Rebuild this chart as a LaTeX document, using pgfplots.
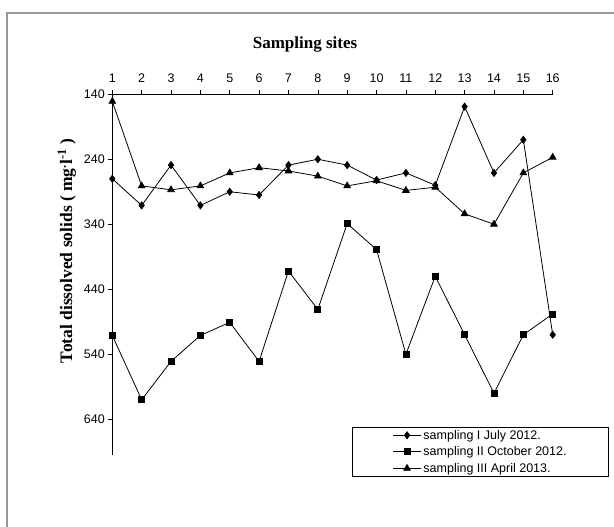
\documentclass[border=0pt]{standalone}
\usepackage{pgfplots}
\pgfplotsset{compat=1.18}
\usepackage{fontspec}
\setmainfont{Liberation Serif}
\newfontfamily\arial{Liberation Sans}
\definecolor{framegray}{RGB}{150,150,150}
\begin{document}
\begin{tikzpicture}[x=1pt,y=1pt]
\useasboundingbox (0,0) rectangle (614,527);
\draw[framegray, line width=1.3pt] (7,0) -- (7,514) -- (614,514);
\begin{axis}[
  at={(112.3pt,72pt)}, anchor=south west,
  width=440.4pt, height=360.75pt, scale only axis,
  xmin=1, xmax=16, ymin=140, ymax=695,
  y dir=reverse,
  axis x line=top, axis y line=left,
  axis line style={-, line width=0.8pt},
  xtick={1,...,16}, ytick={140,240,340,440,540,640},
  tick align=outside, major tick length=4pt,
  tick style={black, line width=0.6pt},
  /pgf/number format/assume math mode=true,
  ticklabel style={font=\arial\fontsize{12.5}{14}\selectfont},
  xticklabel style={yshift=4pt},
  legend style={at={(axis description cs:1.1276,-0.0609)}, anchor=south east,
    font=\arial\fontsize{12.5}{14}\selectfont, draw=black, line width=0.6pt,
    inner xsep=40pt, inner ysep=1pt, row sep=2pt},
  legend cell align=left,
  legend image code/.code={\draw[mark repeat=2,mark phase=2] plot coordinates {(0pt,0pt) (14pt,0pt) (28pt,0pt)};},
  every axis plot/.append style={black, line width=0.8pt},
]
\addplot[mark=diamond*, mark size=3.5pt, mark options={solid}] coordinates {
(1,270) (2,311) (3,249) (4,311) (5,290) (6,295) (7,249) (8,240)
(9,249) (10,272) (11,261) (12,280) (13,159) (14,261) (15,210) (16,510)};
\addlegendentry{sampling I July 2012.}
\addplot[mark=square*, mark size=3pt] coordinates {
(1,511) (2,610) (3,551) (4,511) (5,491) (6,551) (7,412) (8,471)
(9,339) (10,379) (11,540) (12,420) (13,510) (14,600) (15,510) (16,478)};
\addlegendentry{sampling II October 2012.}
\addplot[mark=triangle*, mark size=3.8pt] coordinates {
(1,151) (2,281) (3,287) (4,281) (5,261) (6,253) (7,258) (8,266)
(9,281) (10,273) (11,288) (12,283) (13,324) (14,340) (15,261) (16,237)};
\addlegendentry{sampling III April 2013.}
\end{axis}
\node[font=\bfseries\fontsize{17}{20}\selectfont] at (305,483) {Sampling sites};
\node[rotate=90, font=\bfseries\fontsize{17.5}{20}\selectfont] at (67,276) {Total dissolved solids ( mg\textsuperscript{.}l\textsuperscript{-1} )};
\end{tikzpicture}
\end{document}
